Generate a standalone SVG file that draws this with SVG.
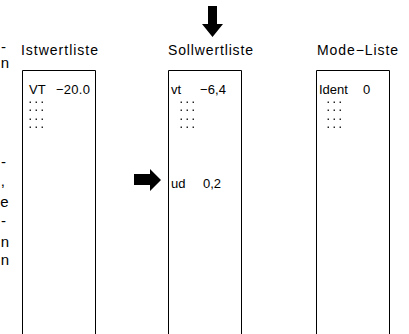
<svg xmlns="http://www.w3.org/2000/svg" width="409" height="334" viewBox="0 0 409 334">
  <style>
    .t { font-family: "Liberation Sans", Arial, sans-serif; font-size: 13px; fill: #000; }
    .title { font-family: "Liberation Sans", Arial, sans-serif; font-size: 14px; fill: #000; }
    .page { font-family: "Liberation Sans", Arial, sans-serif; font-size: 15px; fill: #000; text-anchor: end; }
    .dots { font-family: "Liberation Sans", Arial, sans-serif; font-size: 9px; font-weight: bold; fill: #000; filter: url(#mono); }
    .box { fill: none; stroke: #000; stroke-width: 1; }
    .arrow { fill: #000; stroke: none; }
  </style>
  <defs>
    <!-- keeps the tiny ellipsis dots free of colour fringes -->
    <filter id="mono" x="-20%" y="-20%" width="140%" height="140%">
      <feColorMatrix type="saturate" values="0"/>
    </filter>
  </defs>

  <rect width="409" height="334" fill="#fff"/>

  <!-- cut-off line ends of the neighbouring text column -->
  <g id="page-margin">
    <text class="page" x="6" y="52">-</text>
    <text class="page" x="9" y="68">n</text>
    <text class="page" x="6" y="167">-</text>
    <text class="page" x="5" y="186">,</text>
    <text class="page" x="8.5" y="207">e</text>
    <text class="page" x="6" y="226">-</text>
    <text class="page" x="9" y="247">n</text>
    <text class="page" x="9" y="265">n</text>
  </g>

  <g id="istwertliste">
    <text class="title" x="21" y="55" textLength="77" lengthAdjust="spacing">Istwertliste</text>
    <path class="box" d="M22.5 340 V70.5 H95.5 V340"/>
    <text class="t" x="29" y="94">VT</text>
    <text class="t" x="56" y="94" textLength="34" lengthAdjust="spacing">−20.0</text>
    <text class="dots">
      <tspan x="29 35 41" y="102.5">...</tspan>
      <tspan x="29 35 41" y="111">...</tspan>
      <tspan x="29 35 41" y="119.5">...</tspan>
      <tspan x="29 35 41" y="128">...</tspan>
    </text>
  </g>

  <g id="sollwertliste">
    <text class="title" x="168" y="55" textLength="85" lengthAdjust="spacing">Sollwertliste</text>
    <path class="box" d="M168.5 340 V70.5 H241.5 V340"/>
    <text class="t" x="171" y="94">vt</text>
    <text class="t" x="200" y="94" textLength="26" lengthAdjust="spacing">−6,4</text>
    <text class="dots">
      <tspan x="180 186 192" y="102.5">...</tspan>
      <tspan x="180 186 192" y="111">...</tspan>
      <tspan x="180 186 192" y="119.5">...</tspan>
      <tspan x="180 186 192" y="128">...</tspan>
    </text>
    <text class="t" x="171" y="188">ud</text>
    <text class="t" x="203" y="188">0,2</text>
  </g>

  <g id="mode-liste">
    <text class="title" x="317" y="55" textLength="81" lengthAdjust="spacing">Mode−Liste</text>
    <path class="box" d="M316.5 340 V70.5 H389.5 V340"/>
    <text class="t" x="319" y="94">Ident</text>
    <text class="t" x="363" y="94">0</text>
    <text class="dots">
      <tspan x="327 333 339" y="102.5">...</tspan>
      <tspan x="327 333 339" y="111">...</tspan>
      <tspan x="327 333 339" y="119.5">...</tspan>
      <tspan x="327 333 339" y="128">...</tspan>
    </text>
  </g>

  <g id="connectors">
    <!-- block arrow pointing down onto the Sollwertliste -->
    <polygon class="arrow" points="208,6 217,6 217,24 223,24 212.5,37 202,24 208,24"/>
    <!-- block arrow pointing at the ud entry -->
    <polygon class="arrow" points="134,174 150,174 150,169 161,180 150,191 150,185 134,185"/>
  </g>
</svg>
